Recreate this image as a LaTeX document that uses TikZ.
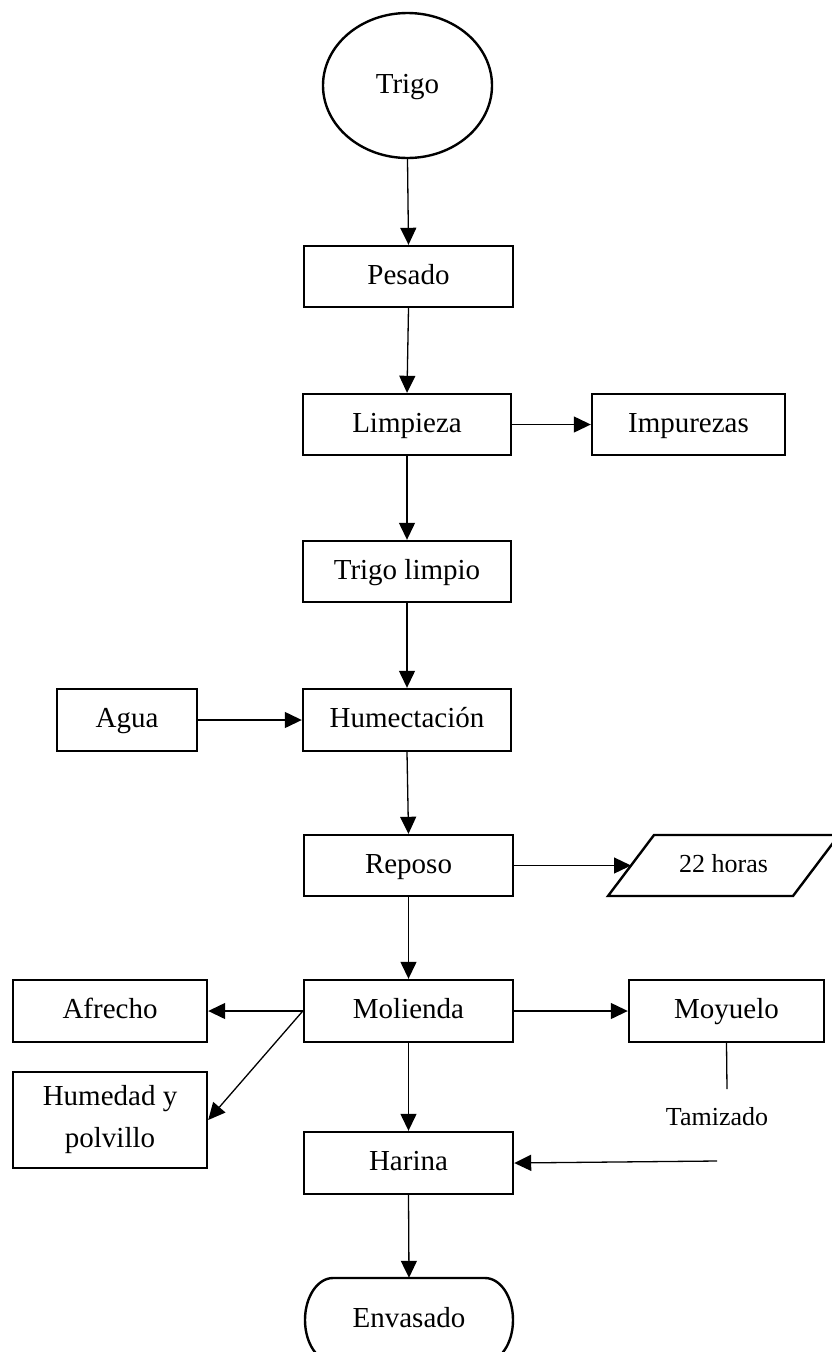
\documentclass[tikz,border=0pt]{standalone}
\usepackage{fontspec}
\setmainfont{Liberation Serif}
\usetikzlibrary{arrows.meta,shapes.geometric}
\tikzset{
  box/.style={draw, line width=2.4pt, rectangle, inner sep=0pt, font=\fontsize{29}{42}\selectfont, align=center},
  one/.style={text height=21pt, text depth=6pt},
  txt/.style={inner sep=0pt, font=\fontsize{26}{30}\selectfont},
  conn/.style={line width=1.3pt, -{Triangle[length=17pt,width=16pt]}},
  plain/.style={line width=1.3pt}
}
\begin{document}
\begin{tikzpicture}[x=1pt,y=-1pt]
\useasboundingbox (0,0) rectangle (832,1352);
\node[box, one, ellipse, minimum width=169pt, minimum height=145pt] (trigo) at (407.5,85.5) {Trigo};
\node[box, one, minimum width=209pt, minimum height=61pt] (pesado) at (408.5,276.5) {Pesado};
\node[box, one, minimum width=208pt, minimum height=61pt] (limp) at (407,424.5) {Limpieza};
\node[box, one, minimum width=193pt, minimum height=61pt] (imp) at (688.5,424.5) {Impurezas};
\node[box, one, minimum width=208pt, minimum height=61pt] (tl) at (407,571.5) {Trigo limpio};
\node[box, one, minimum width=140pt, minimum height=62pt] (agua) at (127,720) {Agua};
\node[box, one, minimum width=208pt, minimum height=62pt] (hum) at (407,720) {Humectación};
\node[box, one, minimum width=209pt, minimum height=61pt] (rep) at (408.5,865.5) {Reposo};
\node[txt, text height=18pt, text depth=5pt] (h22) at (723.5,865.5) {22 horas};
\draw[line width=2.4pt] (608,896) -- (654,835) -- (839,835) -- (793,896) -- cycle;
\coordinate (h22left) at (631,865.5);
\node[box, one, minimum width=209pt, minimum height=62pt] (mol) at (408.5,1011) {Molienda};
\node[box, one, minimum width=194pt, minimum height=62pt] (afr) at (110,1011) {Afrecho};
\node[box, minimum width=194pt, minimum height=96pt] (hp) at (110,1120) {Humedad y\\polvillo};
\node[box, one, minimum width=195pt, minimum height=62pt] (moy) at (726.5,1011) {Moyuelo};
\node[txt] (tam) at (717,1117) {Tamizado};
\node[box, one, minimum width=209pt, minimum height=62pt] (har) at (408.5,1163) {Harina};
\node[inner sep=0pt, minimum width=209pt, minimum height=84pt, font=\fontsize{29}{34}\selectfont, one] (env) at (409,1320) {Envasado};
\draw[line width=2.4pt] (333,1278) -- (485,1278) arc[start angle=-90, end angle=90, x radius=28, y radius=42] -- (333,1362) arc[start angle=90, end angle=270, x radius=28, y radius=42] -- cycle;
\coordinate (tamtop) at (727,1089);
\coordinate (tamout) at (717,1161);
\draw[conn] (trigo.south) -- (pesado.north);
\draw[conn] (pesado.south) -- (limp.north);
\draw[conn] (limp.east) -- (imp.west);
\draw[conn] (limp.south) -- (tl.north);
\draw[conn] (tl.south) -- (hum.north);
\draw[conn] (agua.east) -- (hum.west);
\draw[conn] (hum.south) -- (rep.north);
\draw[conn] (rep.east) -- (h22left);
\draw[conn] (rep.south) -- (mol.north);
\draw[conn] (mol.west) -- (afr.east);
\draw[conn] (mol.west) -- (hp.east);
\draw[conn] (mol.east) -- (moy.west);
\draw[conn] (mol.south) -- (har.north);
\draw[plain] (moy.south) -- (tamtop);
\draw[conn] (tamout) -- (har.east);
\draw[conn] (har.south) -- (env.north);
\end{tikzpicture}
\end{document}
